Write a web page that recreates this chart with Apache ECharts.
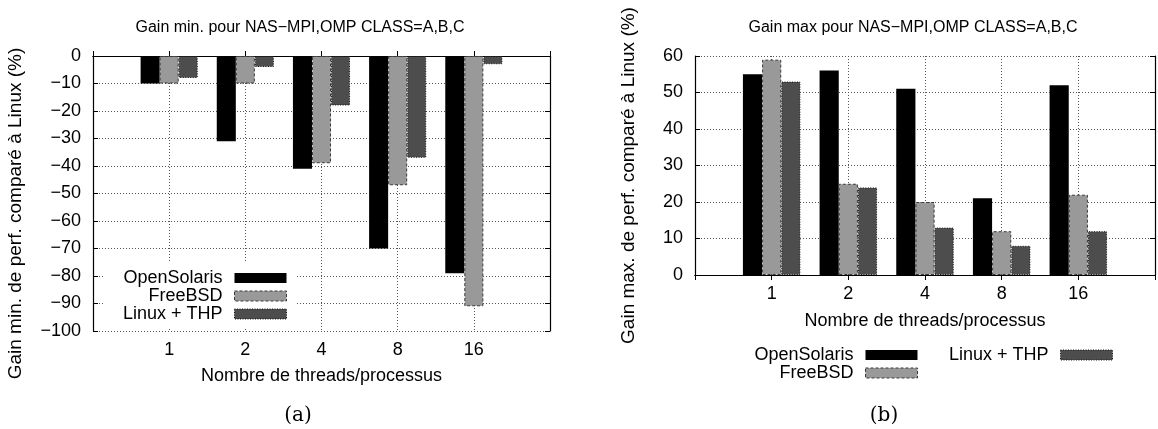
<!DOCTYPE html>
<html><head><meta charset="utf-8">
<script src="https://cdn.jsdelivr.net/npm/echarts@6/dist/echarts.min.js"></script>
<style>html,body{margin:0;padding:0;background:#fff}#c{width:1158px;height:429px}</style>
</head><body><div id="c"></div>
<script>
// ---- data ----
const categories = ['1', '2', '4', '8', '16'];
const seriesNames = ['OpenSolaris', 'FreeBSD', 'Linux + THP'];
const minOpenSolaris = [-10, -31, -41, -70, -79];
const minFreeBSD = [-10, -10, -39, -47, -91];
const minLinuxTHP = [-8, -4, -18, -37, -3];
const maxOpenSolaris = [55, 56, 51, 21, 52];
const maxFreeBSD = [59, 25, 20, 12, 22];
const maxLinuxTHP = [53, 24, 13, 8, 12];
const titleMin = 'Gain min. pour NAS\u2212MPI,OMP CLASS=A,B,C';
const titleMax = 'Gain max pour NAS\u2212MPI,OMP CLASS=A,B,C';
const yNameMin = 'Gain min. de perf. compar\u00e9 \u00e0 Linux (%)';
const yNameMax = 'Gain max. de perf. compar\u00e9 \u00e0 Linux (%)';
const xName = 'Nombre de threads/processus';

// ---- styles ----
const FONT = '"Liberation Sans", Arial, Helvetica, sans-serif';
const FS = 18;
const styles = {
  'OpenSolaris': { color: '#000000', borderColor: '#000000', borderWidth: 0 },
  'FreeBSD': { color: '#999999', borderColor: '#3a3a3a', borderWidth: 1, borderType: [3, 2] },
  'Linux + THP': { color: '#4d4d4d', borderColor: '#111111', borderWidth: 1, borderType: [1, 1.5] }
};
const padCats = [''].concat(categories, ['']);
const pad = arr => [null].concat(arr, [null]);
const minus = v => String(v).replace('-', '\u2212');
const gridLine = { show: true, lineStyle: { color: '#555', width: 1, type: [1, 2] } };
const blackLine = { show: true, lineStyle: { color: '#000', width: 1.2 } };
const txt = { color: '#000', fontFamily: FONT, fontSize: FS };

function xAxes(gi, gap) {
  return [
    { type: 'category', gridIndex: gi, data: padCats, boundaryGap: false, position: 'bottom',
      axisLine: blackLine, axisTick: { show: true, inside: true, length: 5, lineStyle: { color: '#000' } },
      axisLabel: Object.assign({ margin: 10, interval: 0 }, txt), splitLine: gridLine,
      name: xName, nameLocation: 'middle', nameGap: gap, nameTextStyle: txt },
    { type: 'category', gridIndex: gi, data: padCats, boundaryGap: false, position: 'top',
      axisLine: blackLine, axisTick: { show: true, inside: true, length: 5, lineStyle: { color: '#000' } },
      axisLabel: { show: false }, splitLine: { show: false } }
  ];
}
function yAxes(gi, mn, mx, name, gap, shift) {
  return [
    { type: 'value', gridIndex: gi, min: mn, max: mx, interval: 10, position: 'left',
      axisLine: blackLine, axisTick: { show: true, inside: true, length: 5, lineStyle: { color: '#000' } },
      axisLabel: Object.assign({ margin: 12, formatter: minus }, txt), splitLine: gridLine,
      name: name, nameLocation: 'middle', nameGap: gap,
      nameTextStyle: Object.assign({}, txt, { fontSize: 19, padding: [0, shift, 0, 0] }) },
    { type: 'value', gridIndex: gi, min: mn, max: mx, interval: 10, position: 'right',
      axisLine: blackLine, axisTick: { show: true, inside: true, length: 5, lineStyle: { color: '#000' } },
      axisLabel: { show: false }, splitLine: { show: false } }
  ];
}
function bar(name, data, ai) {
  return { type: 'bar', name: name, xAxisIndex: ai, yAxisIndex: ai, data: pad(data),
    barWidth: '25%', barGap: '0%', itemStyle: styles[name], emphasis: { disabled: true },
    animation: false };
}
const legendData = names => names.map(n => ({ name: n, icon: 'rect', itemStyle: styles[n] }));
const titleStyle = { color: '#000', fontFamily: FONT, fontSize: 16, fontWeight: 'normal' };
const capStyle = { color: '#000', fontFamily: '"DejaVu Serif", serif', fontSize: 20, fontWeight: 'normal' };

const chart = echarts.init(document.getElementById('c'));
chart.setOption({
  animation: false,
  backgroundColor: '#fff',
  title: [
    { text: titleMin, left: 300, top: 20, textAlign: 'center', padding: 0, textStyle: titleStyle },
    { text: titleMax, left: 913, top: 20, textAlign: 'center', padding: 0, textStyle: titleStyle },
    { text: '(a)', left: 298, top: 406, textAlign: 'center', padding: 0, textStyle: capStyle },
    { text: '(b)', left: 884, top: 406, textAlign: 'center', padding: 0, textStyle: capStyle }
  ],
  grid: [
    { left: 93, right: 608, top: 56, height: 275 },
    { left: 695, right: -8, top: 56, height: 219 }
  ],
  xAxis: xAxes(0, 36).concat(xAxes(1, 37)),
  yAxis: yAxes(0, -100, 0, yNameMin, 68, 40).concat(yAxes(1, 0, 60, yNameMax, 57, 20)),
  legend: [
    { data: legendData(seriesNames), orient: 'vertical', align: 'right', right: 862, top: 263,
      itemWidth: 52, itemHeight: 10, itemGap: 0, backgroundColor: '#fff', padding: [6, 9, 4, 20],
      selectedMode: false,
      textStyle: { color: '#000', fontFamily: FONT, fontSize: FS, lineHeight: 18, padding: [0, 7, 0, 0] } },
    { data: legendData(seriesNames.slice(0, 2)), orient: 'vertical', align: 'right', right: 240, top: 346,
      itemWidth: 52, itemHeight: 10, itemGap: 0, padding: 0, selectedMode: false,
      textStyle: { color: '#000', fontFamily: FONT, fontSize: FS, lineHeight: 17, padding: [0, 7, 0, 0] } },
    { data: legendData(seriesNames.slice(2)), orient: 'vertical', align: 'right', right: 45, top: 346,
      itemWidth: 52, itemHeight: 10, itemGap: 0, padding: 0, selectedMode: false,
      textStyle: { color: '#000', fontFamily: FONT, fontSize: FS, lineHeight: 17, padding: [0, 7, 0, 0] } }
  ],
  series: [
    bar('OpenSolaris', minOpenSolaris, 0),
    bar('FreeBSD', minFreeBSD, 0),
    bar('Linux + THP', minLinuxTHP, 0),
    bar('OpenSolaris', maxOpenSolaris, 2),
    bar('FreeBSD', maxFreeBSD, 2),
    bar('Linux + THP', maxLinuxTHP, 2)
  ]
});
</script></body></html>
